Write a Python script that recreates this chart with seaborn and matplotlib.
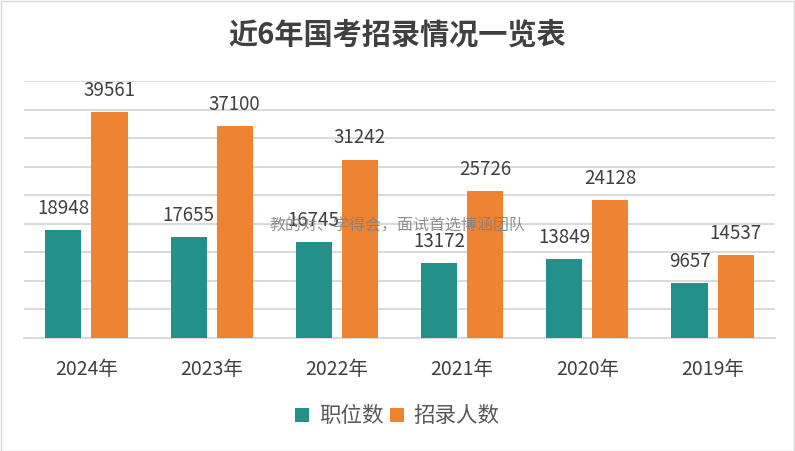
import matplotlib
matplotlib.use("Agg")
import matplotlib.pyplot as plt
import seaborn as sns
import pandas as pd
from matplotlib.patches import Rectangle

years = ["2024年", "2023年", "2022年", "2021年", "2020年", "2019年"]
positions = [18948, 17655, 16745, 13172, 13849, 9657]
recruits = [39561, 37100, 31242, 25726, 24128, 14537]
series_names = ["职位数", "招录人数"]
colors = ["#23918A", "#EE8431"]

df = pd.DataFrame({
    "year": years * 2,
    "value": positions + recruits,
    "series": [series_names[0]] * len(years) + [series_names[1]] * len(years),
})

sns.set_theme(style="white")
plt.rcParams["font.family"] = ["Noto Sans CJK SC", "DejaVu Sans"]

fig = plt.figure(figsize=(7.95, 4.51), dpi=100)
ax = fig.add_axes([0.030, 0.2506, 0.945, 0.5698])

sns.barplot(data=df, x="year", y="value", hue="series", order=years,
            hue_order=series_names, palette=colors, width=0.736, gap=0.217,
            saturation=1, linewidth=0, ax=ax, legend=True, zorder=3)

for c in ax.containers:
    ax.bar_label(c, fmt="%d", padding=8, fontsize=13.5, color="#404040")

ax.set_ylim(0, 45000)
ax.set_yticks(range(0, 45001, 5000))
ax.set_yticklabels([])
ax.tick_params(axis="y", length=0)
ax.yaxis.grid(True, color="#D9D9D9", linewidth=1.4, zorder=0)
ax.set_axisbelow(True)
ax.set_xlim(-0.5, len(years) - 0.5)
ax.set_xlabel("")
ax.set_ylabel("")
ax.tick_params(axis="x", length=0, pad=15, labelsize=14, labelcolor="#404040")
for s in ["top", "right", "left"]:
    ax.spines[s].set_visible(False)
ax.spines["bottom"].set_color("#D9D9D9")
ax.spines["bottom"].set_linewidth(1.4)

handles, labels = ax.get_legend_handles_labels()
ax.get_legend().remove()
fig.legend(handles, labels, loc="center", bbox_to_anchor=(0.5, 0.077), ncol=2,
           frameon=False, fontsize=15.5, handlelength=0.65, handleheight=0.65,
           handletextpad=0.45, columnspacing=0.3, labelcolor="#595959")

fig.text(0.5, 0.923, "近6年国考招录情况一览表", ha="center", va="center",
         fontsize=21, fontweight="bold", color="#404040")

fig.text(0.5, 0.499, "教的对、学得会，面试首选博涵团队", ha="center", va="center",
         fontsize=11.5, color="#7F7F7F", alpha=0.85, zorder=10)

fig.patches.append(Rectangle((0.001, 0.001), 0.998, 0.997, transform=fig.transFigure,
                             fill=False, edgecolor="#D9D9D9", linewidth=1))

fig.savefig("out.png", dpi=100)
